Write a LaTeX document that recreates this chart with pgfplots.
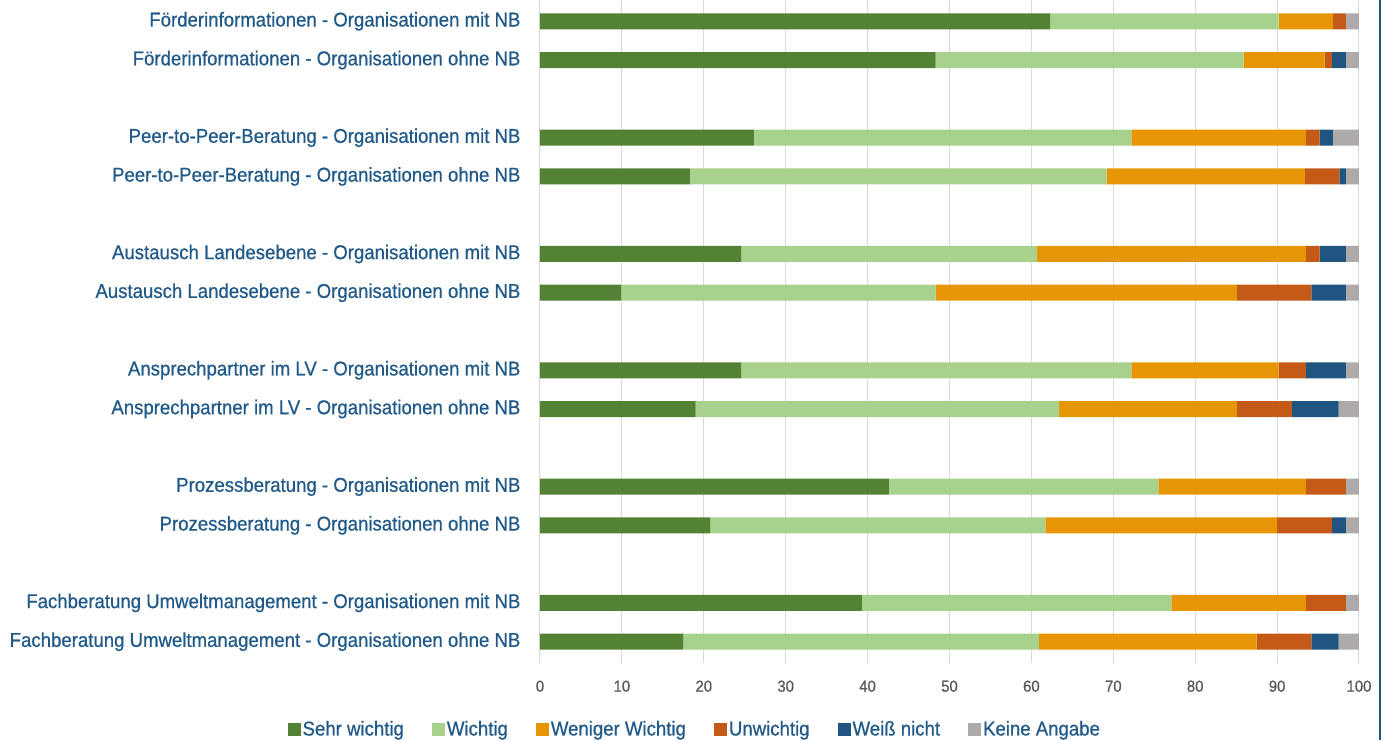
\documentclass[border=0pt]{standalone}
\usepackage{fontspec}
\setmainfont[FakeStretch=0.93,FakeBold=0.7]{Liberation Sans}
\usepackage{pgfplots}
\usepackage{pgfplotstable}
\pgfplotsset{compat=1.18}
\definecolor{cSW}{HTML}{548235}
\definecolor{cW}{HTML}{A9D18E}
\definecolor{cWW}{HTML}{E69604}
\definecolor{cUW}{HTML}{C55A18}
\definecolor{cWN}{HTML}{1F5580}
\definecolor{cKA}{HTML}{AEAAAA}
\definecolor{txtblue}{HTML}{215A88}
\definecolor{gridgray}{HTML}{D9D9D9}
\definecolor{tickgray}{HTML}{595959}
\pgfplotstableread{
y   sw    w     ww    uw   wn   ka
0   62.3  27.9  6.6   1.6  0.0  1.6
1   48.3  37.6  9.9   0.9  1.7  1.6
3   26.1  46.1  21.3  1.7  1.6  3.2
4   18.3  50.9  24.2  4.2  0.8  1.6
6   24.6  36.1  32.8  1.7  3.2  1.6
7   9.9   38.4  36.8  9.1  4.2  1.6
9   24.6  47.6  18.0  3.3  4.9  1.6
10  19.0  44.4  21.7  6.7  5.7  2.5
12  42.6  32.9  18.0  4.9  0.0  1.6
13  20.8  40.9  28.3  6.7  1.7  1.6
15  39.3  37.8  16.4  4.9  0.0  1.6
16  17.5  43.4  26.6  6.7  3.3  2.5
}\datatable
\begin{document}
\begin{tikzpicture}
\begin{axis}[
  name=ax,
  scale only axis,
  width=819pt, height=663pt,
  xbar stacked,
  bar width=16pt,
  xmin=0, xmax=100,
  ymin=-0.55, ymax=16.55,
  y dir=reverse,
  xtick={0,10,...,100},
  ytick={0,1,3,4,6,7,9,10,12,13,15,16},
  yticklabels={
    Förderinformationen - Organisationen mit NB,
    Förderinformationen - Organisationen ohne NB,
    Peer-to-Peer-Beratung - Organisationen mit NB,
    Peer-to-Peer-Beratung - Organisationen ohne NB,
    Austausch Landesebene - Organisationen mit NB,
    Austausch Landesebene - Organisationen ohne NB,
    Ansprechpartner im LV - Organisationen mit NB,
    Ansprechpartner im LV - Organisationen ohne NB,
    Prozessberatung - Organisationen mit NB,
    Prozessberatung - Organisationen ohne NB,
    Fachberatung Umweltmanagement - Organisationen mit NB,
    Fachberatung Umweltmanagement - Organisationen ohne NB},
  yticklabel style={font=\fontsize{20}{24}\selectfont, text=txtblue, xshift=-16pt},
  xticklabel style={font=\fontsize{16}{19}\selectfont, text=tickgray, yshift=-14pt},
  /pgf/number format/assume math mode=true,
  xmajorgrids, grid style={gridgray, line width=1pt},
  axis line style={draw=none},
  major tick length=0pt,
  legend columns=6,
  legend style={draw=none, at={(0.189,-0.0995)}, anchor=center,
    font=\fontsize{20}{24}\selectfont, text=txtblue,
    /tikz/every even column/.append style={column sep=26pt}},
  legend image code/.code={\fill[#1] (0pt,-7pt) rectangle (13pt,6pt);},
  clip=false,
]
\addplot[fill=cSW, draw=none] table[x=sw, y=y] {\datatable};
\addplot[fill=cW, draw=none] table[x=w, y=y] {\datatable};
\addplot[fill=cWW, draw=none] table[x=ww, y=y] {\datatable};
\addplot[fill=cUW, draw=none] table[x=uw, y=y] {\datatable};
\addplot[fill=cWN, draw=none] table[x=wn, y=y] {\datatable};
\addplot[fill=cKA, draw=none] table[x=ka, y=y] {\datatable};
\legend{Sehr wichtig, Wichtig, Weniger Wichtig, Unwichtig, Weiß nicht, Keine Angabe}
\end{axis}
\draw[cWN, line width=2pt] (ax.south east) ++(21pt,-77pt) -- ++(0pt,740pt);
\pgfresetboundingbox
\path[use as bounding box] (ax.south west) ++(-540pt,-77pt) rectangle ++(1390pt,740pt);
\end{tikzpicture}
\end{document}
